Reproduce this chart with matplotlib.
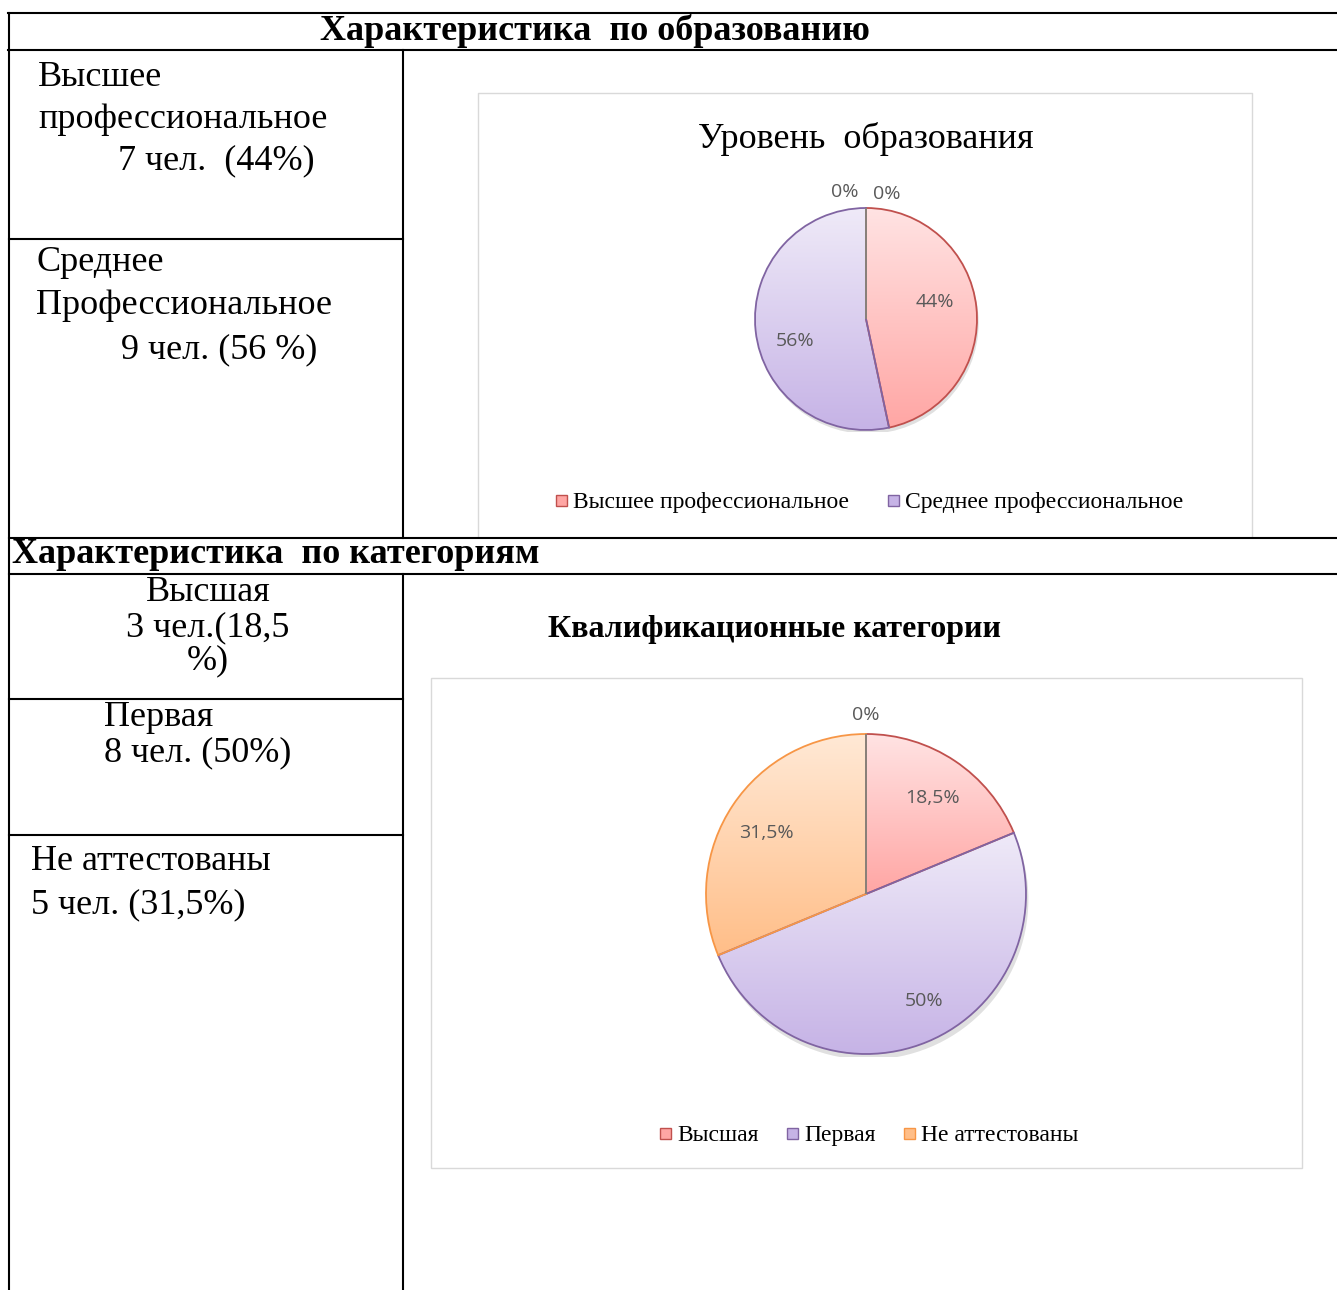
import matplotlib
matplotlib.use("Agg")
import matplotlib.pyplot as plt
import numpy as np
from matplotlib.colors import LinearSegmentedColormap
from matplotlib.patches import Rectangle, Circle

# --- data ---
# slice sizes (people) and the percent labels as printed on the chart
edu_labels = ["Высшее профессиональное", "Среднее профессиональное", "", ""]
edu_values = [7, 8, 0, 0]
edu_pct = ["44%", "56%", "0%", "0%"]
cat_labels = ["Высшая", "Первая", "Не аттестованы", ""]
cat_values = [3, 8, 5, 0]
cat_pct = ["18,5%", "50%", "31,5%", "0%"]

# top colour, bottom colour, edge colour per series
fills = [("#FFE3E3", "#FFA6A4", "#C0504D"),
         ("#EFEAF8", "#C6B3E6", "#8064A2"),
         ("#FFE9D6", "#FFBE88", "#F79646"),
         ("#FFFFFF", "#FFFFFF", "#7F7F7F")]

W, H = 1337, 1290
SERIF = "Liberation Serif"
SANS = "Open Sans"

fig = plt.figure(figsize=(W / 100, H / 100), dpi=100)
ax0 = fig.add_axes([0, 0, 1, 1])
ax0.set_xlim(0, W)
ax0.set_ylim(H, 0)
ax0.axis("off")

# chart frames (first one is cut by the table line)
fc = "#D9D9D9"
ax0.plot([478, 478, 1252, 1252], [537, 93, 93, 537], color=fc, lw=1)
ax0.add_patch(Rectangle((431, 678), 871, 490, fill=False, ec=fc, lw=1))

# table grid
lw = 1.5
for y, x0, x1 in [(13, 8, W), (50, 8, W), (239, 9, 403), (538, 9, W), (574, 9, W),
                  (699, 9, 403), (835, 9, 403)]:
    ax0.plot([x0, x1], [y, y], color="black", lw=lw)
for x, y0, y1 in [(9, 13, H), (403, 50, 538), (403, 574, H)]:
    ax0.plot([x, x], [y0, y1], color="black", lw=lw)

fs = 26
txt = dict(family=SERIF, fontsize=fs, va="baseline", color="black")
ax0.text(595, 40, "Характеристика  по образованию", ha="center", fontweight="bold",
         family=SERIF, fontsize=26, va="baseline")
ax0.text(38, 86, "Высшее", **txt)
ax0.text(38, 128, "профессиональное", **txt)
ax0.text(118, 169, "7 чел.  (44%)", **txt)
ax0.text(36, 271, "Среднее", **txt)
ax0.text(36, 314, "Профессиональное", **txt)
ax0.text(121, 358, "9 чел. (56 %)", **txt)
ax0.text(12, 563, "Характеристика  по категориям", ha="left", fontweight="bold",
         family=SERIF, fontsize=26, va="baseline")
ax0.text(208, 601, "Высшая", ha="center", **txt)
ax0.text(208, 636, "3 чел.(18,5", ha="center", **txt)
ax0.text(208, 669, "%)", ha="center", **txt)
ax0.text(104, 726, "Первая", **txt)
ax0.text(104, 761, "8 чел. (50%)", **txt)
ax0.text(31, 870, "Не аттестованы", **txt)
ax0.text(31, 913, "5 чел. (31,5%)", **txt)

ax0.text(866, 148, "Уровень  образования", ha="center", family=SERIF, fontsize=26,
         va="baseline")
ax0.text(775, 637, "Квалификационные категории", ha="center", family=SERIF,
         fontsize=23, fontweight="bold", va="baseline")


def draw_pie(cx, cy, r, values, pct, dists, nudges, zero_offsets):
    m = 1.02
    ax = fig.add_axes([(cx - r * m) / W, (H - cy - r * m) / H,
                       2 * r * m / W, 2 * r * m / H])
    ax.add_patch(Circle((0.015, -0.035), 1.0, color="#000000", alpha=0.12, lw=0,
                        zorder=0))
    wedges, texts = ax.pie(values, startangle=90, counterclock=False,
                           wedgeprops=dict(lw=1.3))
    for w, (c_top, c_bot, c_edge) in zip(wedges, fills):
        w.set_facecolor("none")
        w.set_edgecolor(c_edge)
        w.set_zorder(3)
        ext = w.get_path().get_extents()
        if ext.height <= 0 or ext.width <= 0:
            continue
        cmap = LinearSegmentedColormap.from_list("g", [c_bot, c_top])
        grad = np.linspace(0, 1, 256).reshape(-1, 1)
        im = ax.imshow(grad, cmap=cmap, origin="lower", aspect="auto",
                       extent=[ext.x0, ext.x1, ext.y0, ext.y1], zorder=2)
        im.set_clip_path(w)
    zi = 0
    for i, (w, v, lab) in enumerate(zip(wedges, values, pct)):
        if v == 0:
            x, y = zero_offsets[zi]
            zi += 1
        else:
            ang = np.deg2rad((w.theta1 + w.theta2) / 2 + nudges[i])
            x, y = dists[i] * np.cos(ang), dists[i] * np.sin(ang)
        ax.text(x, y, lab, ha="center", va="center",
                family=SANS, fontsize=14, color="#595959", zorder=5)
    ax.set_xlim(-m, m)
    ax.set_ylim(-m, m)
    ax.set_aspect("equal")
    ax.axis("off")
    return ax


draw_pie(866, 319, 111, edu_values, edu_pct, [0.64, 0.67], [8, 11],
         [(-0.19, 1.14), (0.19, 1.13)])
draw_pie(866, 894, 160, cat_values, cat_pct, [0.73, 0.76, 0.73], [-1, 6, 2],
         [(0.0, 1.12)])


def legend(items, xs, y):
    for (lab, (c_top, c_bot, c_edge)), x in zip(items, xs):
        ax0.add_patch(Rectangle((x, y - 13), 11, 11, fc=c_bot, ec=c_edge, lw=1))
        ax0.text(x + 17, y, lab, family=SERIF, fontsize=17, va="baseline")


legend(zip(edu_labels[:2], fills[:2]), [556, 888], 508)
legend(zip(cat_labels[:3], fills[:3]), [660, 787, 904], 1141)

fig.savefig("out.png", dpi=100)
